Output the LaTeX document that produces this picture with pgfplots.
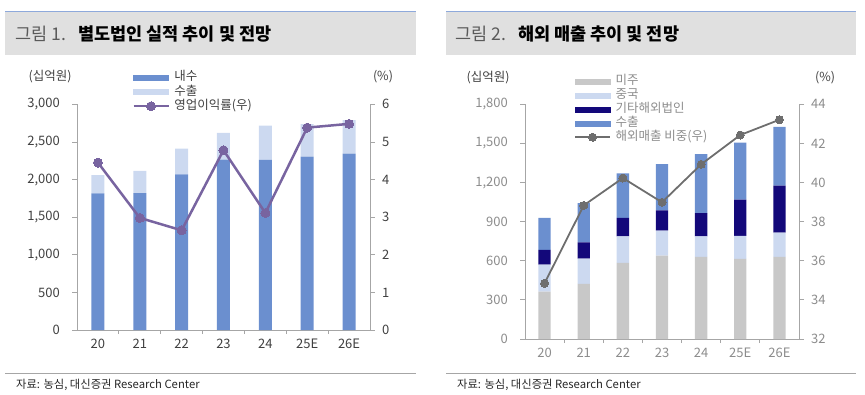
\documentclass[border=0pt]{standalone}
\usepackage{fontspec}
\setmainfont{Noto Sans CJK KR}
\usepackage{pgfplots}
\pgfplotsset{compat=1.18}
\definecolor{cdom}{HTML}{6B8FCF}
\definecolor{cexp}{HTML}{CCD9F0}
\definecolor{cam}{HTML}{C8C8C8}
\definecolor{cetc}{HTML}{13087A}
\definecolor{cpur}{HTML}{7864A0}
\definecolor{cgline}{HTML}{6E6E6E}
\definecolor{axgray}{HTML}{A6A6A6}
\definecolor{band}{HTML}{E0E0E0}
\definecolor{topline}{HTML}{8EA9DB}
\definecolor{txtdark}{HTML}{404040}
\definecolor{txtlight}{HTML}{8C8C8C}
\definecolor{titlegray}{HTML}{5A5A5A}
\pgfplotsset{
 base/.style={scale only axis, xmin=-0.5, xmax=6.5, enlargelimits=false,
  axis line style={draw=axgray, line width=0.8pt},
  tick style={draw=axgray, line width=0.8pt},
  tick align=outside, major tick length=5pt, minor tick length=4pt,
  tick label style={font=\fontsize{13}{13}\selectfont, inner sep=0pt},
  /pgf/number format/assume math mode=true,
  /pgf/number format/1000 sep={,}, clip=false},
 leftax/.style={yticklabel style={xshift=-12pt}, xticklabel style={yshift=-4pt}},
 rightax/.style={yticklabel style={xshift=7pt}},
 leg/.style={legend cell align=left,
  legend style={draw=none, fill=none, inner sep=0pt, row sep=-0.5pt, column sep=3pt,
   font=\fontsize{12.5}{12.5}\selectfont,
   nodes={inner sep=1.5pt, text height=9.5pt, text depth=2.5pt}}},
 linelegend/.style={legend image code/.code={\draw[mark repeat=2, mark phase=2, #1] plot coordinates {(0pt,0pt) (17.5pt,0pt) (35pt,0pt)};}},
}
\begin{document}
\begin{tikzpicture}
\path[use as bounding box] (0,0) rectangle (865pt,394pt);
% ---------- panel 1 decorations
\fill[band] (5pt,339pt) rectangle (416pt,381.5pt);
\draw[topline, line width=1pt] (5pt,382pt) -- (416pt,382pt);
\node[anchor=west, inner sep=0pt, text=titlegray] at (15pt,360pt) {\fontsize{17.5}{17.5}\selectfont 그림 1.};
\node[anchor=west, inner sep=0pt] at (78pt,360pt) {\fontsize{17.5}{17.5}\selectfont\bfseries 별도법인 실적 추이 및 전망};
\draw[axgray, line width=0.8pt] (5pt,21pt) -- (416pt,21pt);
\node[anchor=west, inner sep=0pt, text=black!85] at (16pt,9pt) {\fontsize{11.3}{11.3}\selectfont 자료: 농심, 대신증권 Research Center};
\node[inner sep=0pt, text=txtdark] at (50pt,317pt) {\fontsize{12.5}{12.5}\selectfont (십억원)};
\node[inner sep=0pt, text=txtdark] at (383pt,317pt) {\fontsize{12.5}{12.5}\selectfont (\%)};
% ---------- panel 2 decorations
\fill[band] (446pt,339pt) rectangle (856pt,381.5pt);
\draw[topline, line width=1pt] (446pt,382pt) -- (856pt,382pt);
\node[anchor=west, inner sep=0pt, text=titlegray] at (455pt,360pt) {\fontsize{17.5}{17.5}\selectfont 그림 2.};
\node[anchor=west, inner sep=0pt] at (518pt,360pt) {\fontsize{17.5}{17.5}\selectfont\bfseries 해외 매출 추이 및 전망};
\draw[axgray, line width=0.8pt] (446pt,21pt) -- (856pt,21pt);
\node[anchor=west, inner sep=0pt, text=black!85] at (457pt,9pt) {\fontsize{11.3}{11.3}\selectfont 자료: 농심, 대신증권 Research Center};
\node[inner sep=0pt, text=txtdark] at (488pt,316pt) {\fontsize{12.5}{12.5}\selectfont (십억원)};
\node[inner sep=0pt, text=txtdark] at (825pt,316pt) {\fontsize{12.5}{12.5}\selectfont (\%)};

% ---------- panel 1 bars
\begin{axis}[base, leftax, at={(77pt,64pt)}, anchor=south west, width=293pt, height=225.7pt,
 axis x line*=bottom, axis y line*=left, ymin=0, ymax=3000, ytick={0,500,1000,1500,2000,2500,3000},
 xtick={0,1,2,3,4,5,6}, xticklabels={20,21,22,23,24,25E,26E},
 every major x tick/.append style={draw=none},
 minor xtick={0.5,1.5,2.5,3.5,4.5,5.5},
 tick label style={text=txtdark},
 ybar stacked, bar width=13pt]
\addplot[fill=cdom, draw=none] coordinates {(0,1815) (1,1820) (2,2070) (3,2265) (4,2260) (5,2305) (6,2345)};
\addplot[fill=cexp, draw=none] coordinates {(0,245) (1,295) (2,340) (3,355) (4,455) (5,430) (6,445)};
\end{axis}
% ---------- panel 1 line
\begin{axis}[base, leg, rightax, at={(77pt,64pt)}, anchor=south west, width=293pt, height=225.7pt,
 axis x line=none, axis y line*=right, ymin=0, ymax=6, ytick={0,1,2,3,4,5,6},
 tick label style={text=txtdark},
 legend style={at={(0.188,1.154)}, anchor=north west, text=txtdark}]
\addlegendimage{legend image code/.code={\fill[cdom] (0pt,-2.5pt) rectangle (35pt,2.5pt);}}
\addlegendimage{legend image code/.code={\fill[cexp] (0pt,-2.5pt) rectangle (35pt,2.5pt);}}
\addplot[cpur, line width=2.5pt, mark=*, mark size=4.5pt, mark options={fill=cpur, draw=cpur, line width=0pt}, linelegend]
 coordinates {(0,4.45) (1,2.98) (2,2.65) (3,4.78) (4,3.11) (5,5.38) (6,5.48)};
\legend{내수, 수출, 영업이익률(우)}
\end{axis}

% ---------- panel 2 bars
\begin{axis}[base, leftax, at={(525pt,55pt)}, anchor=south west, width=274pt, height=234.7pt,
 axis x line*=bottom, axis y line*=left, ymin=0, ymax=1800, ytick={0,300,600,900,1200,1500,1800},
 xtick={0,1,2,3,4,5,6}, xticklabels={20,21,22,23,24,25E,26E},
 every major x tick/.append style={draw=none},
 minor xtick={0.5,1.5,2.5,3.5,4.5,5.5},
 tick label style={text=txtlight},
 ybar stacked, bar width=12.3pt]
\addplot[fill=cam, draw=none] coordinates {(0,363) (1,422) (2,583) (3,639) (4,629) (5,614) (6,629)};
\addplot[fill=cexp, draw=none] coordinates {(0,207) (1,194) (2,205) (3,192) (4,159) (5,176) (6,186)};
\addplot[fill=cetc, draw=none] coordinates {(0,113) (1,126) (2,140) (3,156) (4,178) (5,279) (6,361)};
\addplot[fill=cdom, draw=none] coordinates {(0,245) (1,301) (2,343) (3,355) (4,451) (5,437) (6,450)};
\end{axis}
% ---------- panel 2 line
\begin{axis}[base, leg, rightax, at={(525pt,55pt)}, anchor=south west, width=274pt, height=234.7pt,
 axis x line=none, axis y line*=right, ymin=32, ymax=44, ytick={32,34,36,38,40,42,44},
 tick label style={text=txtlight},
 legend style={at={(0.179,1.131)}, anchor=north west, text=txtlight, row sep=-1pt}]
\addlegendimage{legend image code/.code={\fill[cam] (0pt,-2.5pt) rectangle (35pt,2.5pt);}}
\addlegendimage{legend image code/.code={\fill[cexp] (0pt,-2.5pt) rectangle (35pt,2.5pt);}}
\addlegendimage{legend image code/.code={\fill[cetc] (0pt,-2.5pt) rectangle (35pt,2.5pt);}}
\addlegendimage{legend image code/.code={\fill[cdom] (0pt,-2.5pt) rectangle (35pt,2.5pt);}}
\addplot[cgline, line width=1.8pt, mark=*, mark size=4pt, mark options={fill=cgline, draw=cgline, line width=0pt}, linelegend]
 coordinates {(0,34.85) (1,38.83) (2,40.23) (3,38.99) (4,40.93) (5,42.43) (6,43.21)};
\legend{미주, 중국, 기타해외법인, 수출, 해외매출 비중(우)}
\end{axis}
\end{tikzpicture}
\end{document}
